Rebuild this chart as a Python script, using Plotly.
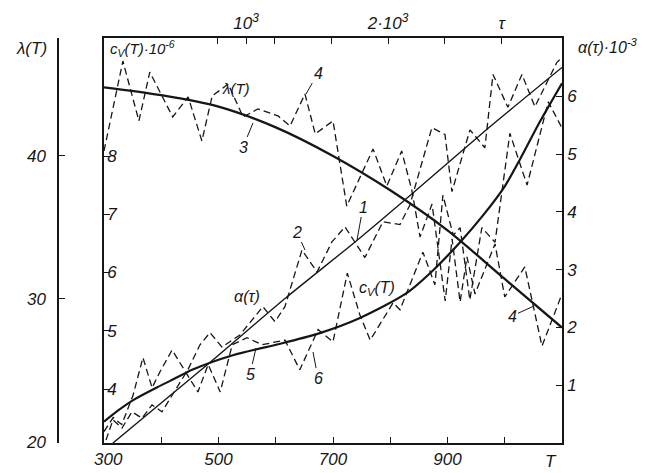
import plotly.graph_objects as go

# ---------------- data ----------------
# curve 3: lambda(T), solid
T_lam = [300, 400, 500, 600, 700, 800, 900, 1000, 1100]
lam_solid = [44.8, 44.25, 43.45, 42.0, 40.0, 37.6, 34.8, 31.4, 28.0]

# curve 4: lambda(T), dashed (oscillating)
T_lam_d = [300, 333, 361, 380, 420, 447, 471, 489, 517, 543, 569, 604, 625, 651, 669, 700,
           724, 770, 794, 820, 838, 852, 873, 896, 908, 922, 934, 948, 983, 1000, 1035, 1065, 1100]
lam_dash = [40.35, 46.64, 42.45, 45.87, 42.73, 44.13, 41.05, 44.20, 45.03, 42.73, 43.29, 42.80,
            42.10, 44.34, 41.54, 42.45, 36.50, 40.49, 37.90, 40.35, 37.55, 34.34, 36.64, 29.86,
            34.20, 29.79, 32.94, 30.35, 33.85, 30.14, 32.24, 26.71, 30.35]

# curve 5: c_V(T)*1e-6, solid
T_cv = [300, 323, 351, 393, 428, 454, 525, 613, 677, 747, 829, 875, 922, 962, 1000, 1027, 1062, 1100]
cv_solid = [3.44, 3.62, 3.81, 4.03, 4.20, 4.33, 4.58, 4.79, 4.96, 5.22, 5.65, 6.04, 6.52, 6.98,
            7.48, 7.95, 8.6, 9.25]

# curve 6: c_V(T), dashed
T_cv_d = [300, 316, 331, 351, 368, 384, 398, 419, 442, 464, 482, 503, 524, 550, 576, 616, 642,
          674, 700, 725, 747, 765, 805, 817, 857, 878, 892, 910, 922, 939, 960, 983, 1009, 1039,
          1076, 1100]
cv_dash = [3.27, 3.51, 3.39, 3.90, 4.54, 4.02, 4.30, 4.67, 4.30, 3.95, 4.42, 3.95, 4.76, 4.88,
           4.76, 4.84, 4.33, 5.02, 4.81, 5.99, 5.27, 4.84, 5.48, 5.36, 6.35, 5.79, 7.33, 6.64,
           6.77, 5.53, 6.77, 6.52, 8.39, 7.50, 8.93, 8.48]

# curve 1: alpha(tau)*1e-3, solid
tau_a = [63, 725, 1289, 1768, 2120, 2711, 3225]
alpha_solid = [0.0, 1.35, 2.53, 3.48, 4.21, 5.46, 6.50]

# curve 2: alpha(tau), dashed
tau_a_d = [14, 63, 127, 197, 268, 338, 408, 591, 676, 746, 831, 957, 1119, 1204, 1274, 1394,
           1500, 1605, 1697, 1837, 1964, 2084, 2154, 2309, 2401, 2450, 2577, 2682, 2739, 2844,
           2943, 3034, 3189, 3224]
alpha_dash = [0.05, 0.40, 0.26, 0.54, 0.43, 0.66, 0.54, 1.27, 1.70, 1.91, 1.66, 1.87, 2.36, 2.10,
              2.36, 3.34, 2.96, 3.48, 3.74, 3.21, 3.83, 3.78, 4.12, 5.46, 5.34, 4.35, 5.42, 5.11,
              6.38, 5.81, 6.38, 5.82, 6.59, 6.67]

# axes ticks
T_ticks = [300, 400, 500, 600, 700, 800, 900, 1000]
T_ticktext = ["", "", "500", "", "700", "", "900", ""]
tau_ticks = [800, 1000, 1200, 1600, 2000, 2400, 2800]
tau_ticktext = ["", "10<sup>3</sup>", "", "", "2·10<sup>3</sup>", "", "τ"]
cv_ticks = [4, 5, 6, 7, 8]
alpha_ticks = [1, 2, 3, 4, 5, 6]
lam_ticks = [20, 30, 40]

# ---------------- figure ----------------
W, H = 665, 473
INK = "#161616"
FONT = dict(family="Liberation Sans", size=17, color=INK, style="italic")


def P(px, py):
    return px / W, 1 - py / H


x0, y0 = P(104, 443)
x1, y1 = P(562, 38)

fig = go.Figure()

DASH = "7px,4px"
fig.add_trace(go.Scatter(x=T_lam, y=lam_solid, mode="lines", xaxis="x", yaxis="y3",
                         line=dict(color=INK, width=2.3, shape="spline", smoothing=0.8)))
fig.add_trace(go.Scatter(x=T_lam_d, y=lam_dash, mode="lines", xaxis="x", yaxis="y3",
                         line=dict(color=INK, width=1.3, dash=DASH)))
fig.add_trace(go.Scatter(x=T_cv, y=cv_solid, mode="lines", xaxis="x", yaxis="y",
                         line=dict(color=INK, width=2.2, shape="spline", smoothing=0.8)))
fig.add_trace(go.Scatter(x=T_cv_d, y=cv_dash, mode="lines", xaxis="x", yaxis="y",
                         line=dict(color=INK, width=1.3, dash=DASH)))
fig.add_trace(go.Scatter(x=tau_a, y=alpha_solid, mode="lines", xaxis="x2", yaxis="y2",
                         line=dict(color=INK, width=1.4, shape="spline", smoothing=0.6)))
fig.add_trace(go.Scatter(x=tau_a_d, y=alpha_dash, mode="lines", xaxis="x2", yaxis="y2",
                         line=dict(color=INK, width=1.3, dash=DASH)))

axis_common = dict(showgrid=False, zeroline=False, showline=True, linecolor=INK, linewidth=1.5,
                   ticks="inside", ticklen=6, tickwidth=1.2, tickcolor=INK, automargin=False,
                   tickfont=dict(family="Liberation Sans", size=17, color=INK, style="italic"))

fig.update_layout(
    width=W, height=H,
    margin=dict(l=0, r=0, t=0, b=0, autoexpand=False),
    paper_bgcolor="white", plot_bgcolor="white",
    showlegend=False,
    font=FONT,
    xaxis=dict(domain=[x0, x1], range=[300, 1100], tickvals=T_ticks, ticktext=T_ticktext,
               anchor="y", **axis_common),
    xaxis2=dict(overlaying="x", side="top", anchor="y", range=[0, 3225],
                tickvals=tau_ticks, ticktext=tau_ticktext, **axis_common),
    yaxis=dict(domain=[y0, y1], range=[3.073, 10.026], tickvals=cv_ticks, anchor="x",
               ticklabelposition="inside", ticklabelstandoff=-2, **axis_common),
    yaxis2=dict(overlaying="y", side="right", anchor="x", range=[0.0, 7.01],
                tickvals=alpha_ticks, **axis_common),
    yaxis3=dict(overlaying="y", side="left", anchor="free", position=58 / W,
                range=[19.93, 48.25], tickvals=lam_ticks, ticklabelstandoff=8, **axis_common),
)

ann = []


def text(px, py, s, size=16, xanchor="center", yanchor="middle"):
    x, y = P(px, py)
    ann.append(dict(x=x, y=y, xref="paper", yref="paper", text=s, showarrow=False,
                    xanchor=xanchor, yanchor=yanchor,
                    font=dict(family="Liberation Sans", size=size, color=INK, style="italic")))


def pointer(px, py, tipx, tipy, s, size=16):
    x, y = P(tipx, tipy)
    ann.append(dict(x=x, y=y, xref="paper", yref="paper", text=s, showarrow=True,
                    arrowhead=0, arrowwidth=1, arrowcolor=INK,
                    ax=px - tipx, ay=py - tipy, axref="pixel", ayref="pixel",
                    font=dict(family="Liberation Sans", size=size, color=INK, style="italic")))


text(31, 48, "λ(T)", 17)
text(108, 48, "c<sub>V</sub>(T)·10<sup>-6</sup>", 15, xanchor="left")
text(576, 46, "α(τ)·10<sup>-3</sup>", 16, xanchor="left")
text(108, 459, "300", 17)
text(551, 461, "T", 17)
text(236, 88, "λ(T)", 15)
text(247, 296, "α(τ)", 16)
text(377, 288, "c<sub>V</sub>(T)", 16)
pointer(243, 147, 253, 123, "3", 16)
pointer(318, 73, 306, 94, "4", 16)
pointer(363, 207, 357, 240, "1", 16)
pointer(297, 232, 305, 250, "2", 16)
pointer(250, 374, 256, 348, "5", 16)
pointer(318, 378, 313, 352, "6", 16)
pointer(512, 316, 534, 306, "4", 16)

fig.update_layout(annotations=ann)

fig.write_html("out.html")
